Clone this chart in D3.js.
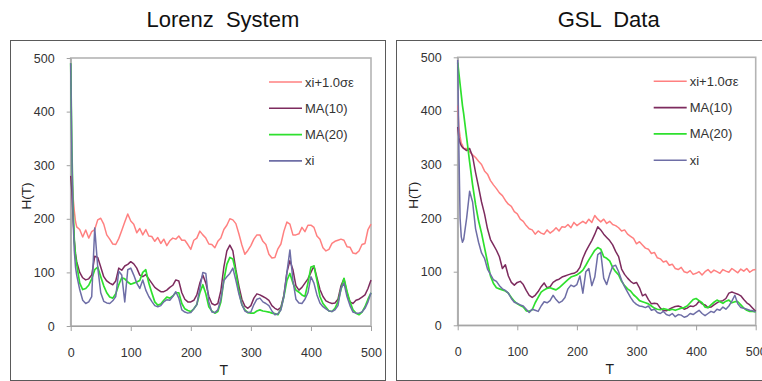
<!DOCTYPE html>
<html lang="en">
<head>
<meta charset="UTF-8">
<title>H(T) - Lorenz System / GSL Data</title>
<script src="https://cdn.jsdelivr.net/npm/d3@7"></script>
<style>
  html, body { margin: 0; padding: 0; background: #fff; }
  svg { display: block; font-family: "Liberation Sans", Arial, sans-serif; }
</style>
</head>
<body>
<svg id="chart" width="762" height="381"></svg>
<script>
// sample times: dense at the start where curves fall fast, then every 5
const tSteps = [0, 2, 4, 6, 8, 10, ...d3.range(15, 501, 5)];

const seriesNames = ["xi+1.0\u03c3\u03b5", "MA(10)", "MA(20)", "xi"];
const seriesColors = ["#ff8080", "#7d2b5e", "#2ee02e", "#6e6ea6"];
const xTicks = [0, 100, 200, 300, 400, 500];
const yTicks = [0, 100, 200, 300, 400, 500];

// ---- Lorenz System ----
const lorenzUpper = [280, 275, 240, 215, 195, 185,
  180, 166, 179, 164, 176, 180, 198, 201, 190, 170,
  162, 153, 152, 163, 178, 194, 209, 196, 190, 174,
  182, 170, 180, 168, 167, 158, 165, 154, 162, 150,
  159, 164, 162, 168, 160, 160, 152, 143, 160, 164,
  177, 170, 164, 153, 152, 146, 158, 164, 180, 188,
  200, 198, 191, 172, 151, 134, 141, 150, 162, 170,
  170, 158, 152, 134, 127, 128, 144, 153, 177, 194,
  190, 170, 170, 172, 184, 176, 188, 188, 184, 168,
  162, 146, 140, 143, 154, 158, 160, 162, 160, 148,
  147, 136, 135, 140, 152, 154, 180, 190];
const lorenzMA10 = [280, 250, 200, 160, 135, 120,
  100, 90, 86, 88, 95, 130, 128, 110, 92, 84,
  80, 77, 84, 108, 104, 112, 115, 120, 116, 108,
  95, 92, 96, 88, 80, 72, 68, 64, 64, 67,
  72, 76, 86, 84, 62, 50, 45, 45, 48, 58,
  80, 95, 80, 55, 42, 39, 42, 66, 110, 140,
  151, 140, 105, 75, 50, 37, 33, 38, 52, 60,
  58, 55, 52, 48, 38, 33, 30, 35, 58, 100,
  122, 105, 75, 67, 72, 80, 88, 100, 112, 90,
  68, 55, 47, 44, 42, 43, 50, 75, 88, 62,
  45, 42, 48, 50, 54, 58, 70, 86];
const lorenzMA20 = [490, 330, 220, 160, 130, 115,
  80, 68, 70, 76, 88, 105, 110, 92, 75, 62,
  54, 52, 60, 77, 90, 88, 82, 78, 80, 82,
  85, 100, 105, 80, 62, 45, 39, 41, 48, 54,
  52, 56, 62, 62, 42, 32, 29, 27, 32, 40,
  62, 77, 60, 36, 28, 24, 27, 45, 85, 115,
  128, 125, 100, 65, 40, 30, 25, 24, 24, 28,
  30, 28, 27, 26, 24, 23, 21, 32, 55, 85,
  98, 80, 67, 63, 58, 55, 80, 110, 112, 85,
  55, 42, 35, 28, 27, 33, 45, 68, 89, 65,
  45, 30, 24, 21, 26, 36, 50, 62];
const lorenzXi = [490, 320, 200, 140, 110, 95,
  68, 48, 42, 45, 55, 183, 110, 62, 46, 43,
  42, 47, 55, 102, 95, 45, 105, 108, 95, 80,
  70, 86, 67, 55, 46, 38, 36, 38, 45, 49,
  48, 55, 64, 52, 30, 26, 24, 25, 32, 40,
  70, 100, 98, 45, 26, 25, 30, 50, 85, 92,
  98, 108, 85, 60, 40, 28, 25, 26, 40, 50,
  52, 45, 42, 38, 28, 21, 23, 30, 55, 100,
  142, 85, 50, 43, 42, 50, 62, 92, 80, 58,
  43, 36, 32, 28, 27, 30, 38, 70, 80, 55,
  38, 26, 24, 24, 26, 33, 45, 62];

// ---- GSL Data ----
const gslUpper = [410, 370, 352, 340, 336, 330,
  330, 324, 318, 313, 306, 300, 288, 282, 270, 262,
  255, 247, 242, 233, 226, 222, 212, 208, 198, 194,
  186, 180, 178, 170, 176, 172, 170, 178, 172, 176,
  182, 176, 184, 183, 188, 182, 192, 186, 190, 194,
  190, 198, 192, 205, 198, 193, 198, 190, 194, 188,
  186, 182, 176, 178, 170, 166, 162, 152, 156, 150,
  144, 142, 134, 136, 126, 124, 118, 120, 112, 114,
  106, 104, 108, 100, 98, 102, 95, 97, 100, 94,
  100, 104, 98, 103, 100, 97, 104, 101, 99, 106,
  102, 98, 105, 101, 106, 99, 103, 104];
const gslMA10 = [370, 350, 340, 335, 332, 330,
  326, 330, 315, 285, 258, 230, 208, 180, 160, 150,
  140, 128, 106, 113, 92, 80, 75, 80, 82, 76,
  65, 56, 52, 56, 63, 72, 79, 70, 72, 80,
  84, 86, 90, 92, 94, 96, 97, 100, 108, 125,
  138, 148, 158, 170, 184, 178, 170, 164, 158, 150,
  138, 128, 105, 95, 88, 82, 78, 80, 70, 55,
  58, 48, 40, 41, 40, 32, 28, 27, 30, 33,
  35, 36, 34, 30, 32, 36, 35, 38, 45, 40,
  38, 33, 34, 38, 42, 45, 46, 50, 60, 62,
  60, 58, 55, 48, 42, 38, 32, 26];
const gslMA20 = [490, 470, 450, 430, 410, 395,
  350, 305, 262, 225, 195, 172, 145, 118, 92, 78,
  70, 68, 66, 64, 60, 52, 45, 40, 37, 34,
  27, 26, 29, 42, 52, 62, 66, 69, 70, 68,
  66, 70, 75, 80, 85, 90, 92, 94, 98, 103,
  112, 122, 131, 140, 145, 142, 128, 125, 120, 108,
  100, 94, 82, 74, 68, 64, 57, 52, 46, 44,
  42, 40, 36, 32, 30, 29, 31, 30, 28, 30,
  28, 30, 32, 33, 36, 42, 48, 50, 46, 42,
  34, 33, 38, 43, 47, 44, 41, 45, 47, 42,
  44, 44, 38, 32, 28, 26, 26, 25];
const gslXi = [495, 330, 200, 165, 155, 160,
  200, 250, 230, 180, 155, 135, 125, 105, 95, 85,
  82, 74, 68, 65, 60, 50, 43, 41, 38, 36,
  30, 24, 30, 28, 26, 36, 44, 42, 46, 56,
  48, 42, 45, 52, 68, 75, 72, 76, 92, 60,
  100, 106, 74, 90, 132, 136, 88, 76, 95, 110,
  112, 100, 84, 72, 62, 52, 44, 39, 36, 35,
  33, 36, 28, 30, 24, 22, 26, 20, 18, 22,
  16, 20, 19, 15, 17, 22, 20, 24, 28, 22,
  18, 22, 26, 24, 30, 28, 34, 30, 36, 45,
  56, 40, 33, 32, 30, 28, 27, 25];

const panels = [
  { title: "Lorenz  System", frame: [10, 40, 375, 340], plot: [70.7, 58, 371, 326],
    series: [lorenzUpper, lorenzMA10, lorenzMA20, lorenzXi] },
  // right frame runs past the page edge, as in the original screenshot
  { title: "GSL  Data", frame: [396, 40, 372, 340], plot: [457.7, 57.3, 755.7, 325.3],
    series: [gslUpper, gslMA10, gslMA20, gslXi] }
];

const svg = d3.select("#chart");

panels.forEach(p => {
  const [fx, fy, fw, fh] = p.frame;
  const [x0, y0, x1, y1] = p.plot;
  const g = svg.append("g");

  g.append("text")
    .attr("x", (x0 + x1) / 2 + 2).attr("y", 27)
    .attr("text-anchor", "middle")
    .attr("font-size", 22).attr("fill", "#111")
    .style("white-space", "pre")
    .text(p.title);

  g.append("rect")
    .attr("x", fx + 0.5).attr("y", fy + 0.5)
    .attr("width", fw).attr("height", fh)
    .attr("fill", "none").attr("stroke", "#5a5a5a");

  const x = d3.scaleLinear().domain([0, 500]).range([x0, x1]);
  const y = d3.scaleLinear().domain([0, 500]).range([y1, y0]);

  // plot area border (top / right visible)
  g.append("rect")
    .attr("x", x0).attr("y", y0)
    .attr("width", x1 - x0).attr("height", y1 - y0)
    .attr("fill", "none").attr("stroke", "#b4b4b4").attr("stroke-width", 1.6);

  const yAxis = g.append("g")
    .attr("transform", `translate(${x0},0)`)
    .call(d3.axisLeft(y).tickValues(yTicks).tickSize(4).tickSizeOuter(0).tickPadding(12));
  const xAxis = g.append("g")
    .attr("transform", `translate(0,${y1})`)
    .call(d3.axisBottom(x).tickValues(xTicks).tickSize(5).tickSizeOuter(0).tickPadding(17));
  [yAxis, xAxis].forEach(a => {
    a.select(".domain").attr("stroke", "#a0a0a0");
    a.selectAll(".tick line").attr("stroke", "#a0a0a0");
    a.selectAll(".tick text").attr("font-size", 12.5).attr("fill", "#333")
      .attr("font-family", "Liberation Sans, Arial, sans-serif");
  });

  g.append("text")
    .attr("transform", `translate(${x0 - 40},${(y0 + y1) / 2 + 4}) rotate(-90)`)
    .attr("text-anchor", "middle").attr("font-size", 13.5).attr("fill", "#222")
    .text("H(T)");
  g.append("text")
    .attr("x", (x0 + x1) / 2 + 3).attr("y", y1 + 49)
    .attr("text-anchor", "middle").attr("font-size", 14).attr("fill", "#222")
    .text("T");

  const line = d3.line()
    .x((d, i) => x(tSteps[i]))
    .y(d => y(d));

  p.series.forEach((vals, k) => {
    g.append("path")
      .datum(vals)
      .attr("d", line)
      .attr("fill", "none")
      .attr("stroke", seriesColors[k])
      .attr("stroke-width", k === 2 ? 1.7 : 1.5)
      .attr("stroke-linejoin", "round");
  });

  const leg = g.append("g");
  seriesNames.forEach((name, k) => {
    const ly = y0 + 24 + k * 26.3;
    leg.append("line")
      .attr("x1", x1 - 102).attr("x2", x1 - 69)
      .attr("y1", ly).attr("y2", ly)
      .attr("stroke", seriesColors[k]).attr("stroke-width", 1.6);
    leg.append("text")
      .attr("x", x1 - 66).attr("y", ly + 4.5)
      .attr("font-size", 13).attr("fill", "#333")
      .text(name);
  });
});
</script>
</body>
</html>
